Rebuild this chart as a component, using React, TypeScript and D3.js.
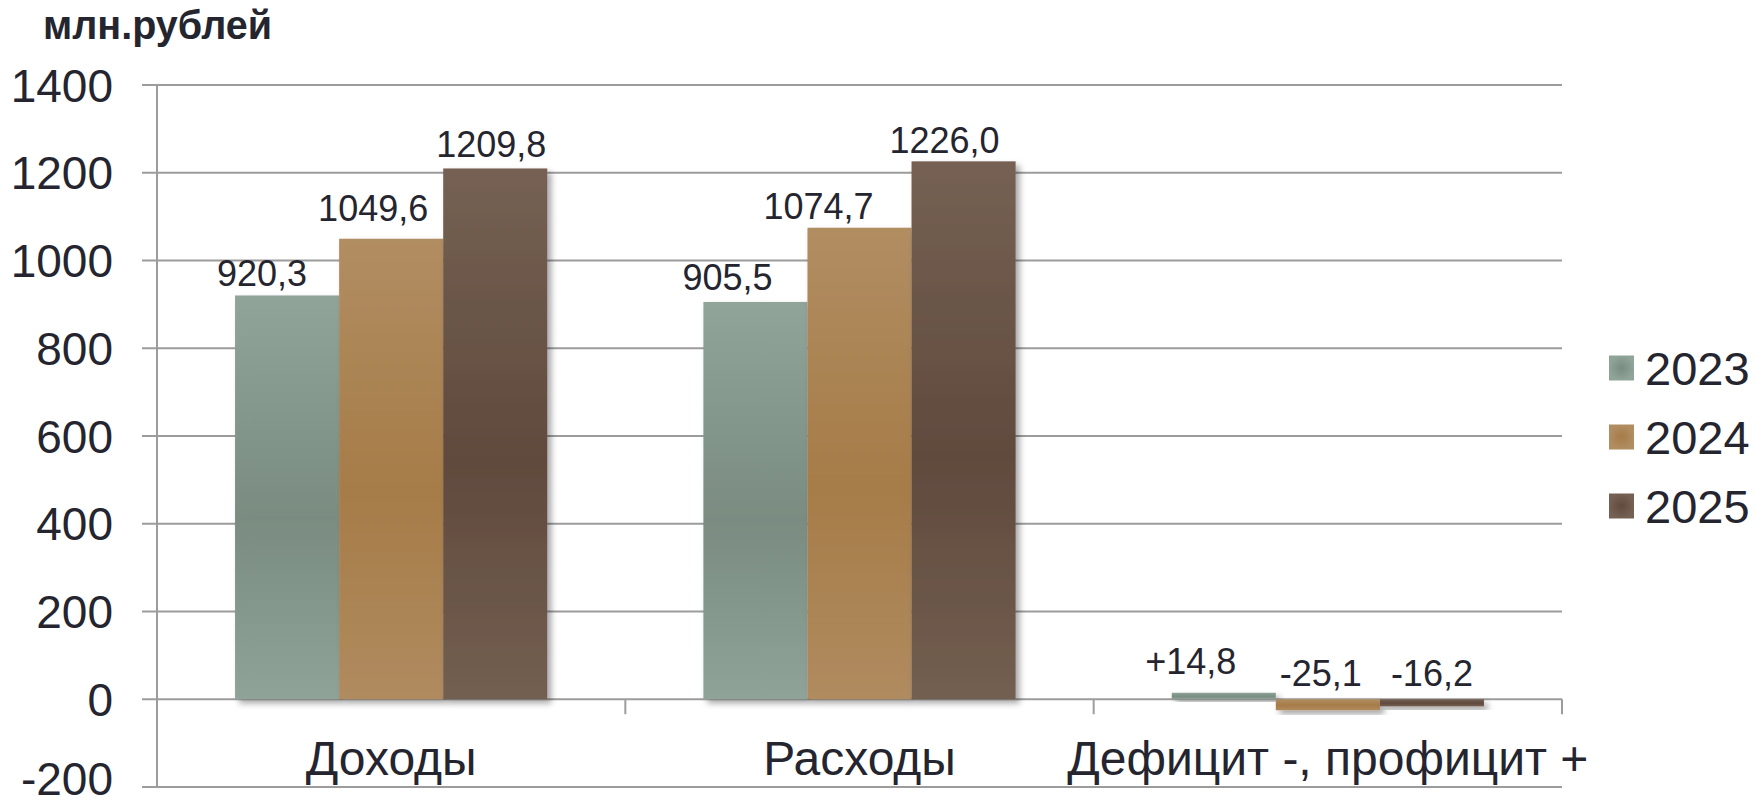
import React from "react";
import * as d3 from "d3";

const categories = ["Доходы", "Расходы", "Дефицит -, профицит +"];
const years = ["2023", "2024", "2025"];
const values2023 = [920.3, 905.5, 14.8];
const values2024 = [1049.6, 1074.7, -25.1];
const values2025 = [1209.8, 1226.0, -16.2];
const valueLabels = [
  ["920,3", "1049,6", "1209,8"],
  ["905,5", "1074,7", "1226,0"],
  ["+14,8", "-25,1", "-16,2"],
];
const yTicks = [-200, 0, 200, 400, 600, 800, 1000, 1200, 1400];
const unitLabel = "млн.рублей";

// label nudges (style), per category / year: [dx, dy]
const labelNudge = [
  [[-25, 1], [-18, -8], [-4, -1]],
  [[-28, -2], [-41, 1], [-19, 2]],
  [[-33, -9], [-7, -3], [0, -3]],
];

const gradStops = [
  ["#90a499", "#7a8c81", "#8fa398"],
  ["#b18d62", "#a67c48", "#b08b5f"],
  ["#756153", "#604a3d", "#735f50"],
];

const W = 1756;
const H = 807;
const FONT = "'Liberation Sans', Arial, Helvetica, sans-serif";
const TXT = "#25252f";
const GRID = "#9c9c9c";

export default function App() {
  const series = [values2023, values2024, values2025];
  const y = d3.scaleLinear().domain([-200, 1400]).range([787, 85]);
  const x0 = d3.scaleBand<string>().domain(categories).range([157, 1562]).paddingInner(0).paddingOuter(0);
  const x1 = d3.scaleBand<string>().domain(years).range([0, x0.bandwidth()]).paddingInner(0).paddingOuter(0.75);
  const left = 157;
  const right = 1562;
  const y0 = y(0);

  return (
    <svg
      width={W}
      height={H}
      style={{ position: "absolute", left: 0, top: 0, display: "block", background: "#fff" }}
      fontFamily={FONT}
    >
      <defs>
        {years.map((yr, i) => (
          <linearGradient key={yr} id={`g${i}`} x1="0" y1="0" x2="0" y2="1">
            <stop offset="0" stopColor={gradStops[i][0]} />
            <stop offset="0.55" stopColor={gradStops[i][1]} />
            <stop offset="1" stopColor={gradStops[i][2]} />
          </linearGradient>
        ))}
        {years.map((yr, i) => (
          <radialGradient key={"r" + yr} id={`lg${i}`} cx="0.5" cy="0.5" r="0.5">
            <stop offset="0" stopColor={gradStops[i][1]} />
            <stop offset="1" stopColor={gradStops[i][0]} />
          </radialGradient>
        ))}
        <filter id="shadow" x="-20%" y="-20%" width="140%" height="160%">
          <feDropShadow dx="4" dy="4" stdDeviation="3" floodColor="#000" floodOpacity="0.35" />
        </filter>
      </defs>

      {/* unit label */}
      <text x={43} y={39} fontSize={40} fontWeight="bold" fill={TXT} textLength={229} lengthAdjust="spacingAndGlyphs">
        {unitLabel}
      </text>

      {/* gridlines */}
      {yTicks.map((t) => (
        <line key={t} x1={142} x2={right} y1={y(t)} y2={y(t)} stroke={GRID} strokeWidth={2} />
      ))}
      {/* vertical axis */}
      <line x1={left} x2={left} y1={y(1400)} y2={y(-200)} stroke={GRID} strokeWidth={2} />
      {/* category ticks */}
      {[...categories.map((c) => x0(c) as number), right].map((xv, i) => (
        <line key={i} x1={xv} x2={xv} y1={y0} y2={y0 + 15} stroke={GRID} strokeWidth={2} />
      ))}

      {/* y tick labels */}
      {yTicks.map((t) => (
        <text key={t} x={113} y={Math.min(y(t), 778)} dy="0.36em" textAnchor="end" fontSize={46} fill={TXT}>
          {t}
        </text>
      ))}

      {/* bars */}
      {categories.map((c, ci) => (
        <g key={c} transform={`translate(${x0(c)},0)`}>
          {years.map((yr, yi) => {
            const v = series[yi][ci];
            const top = Math.min(y(v), y0);
            const h = Math.abs(y(v) - y0);
            return (
              <rect
                key={yr}
                x={x1(yr)}
                y={top}
                width={x1.bandwidth()}
                height={h}
                fill={`url(#g${yi})`}
                filter="url(#shadow)"
              />
            );
          })}
        </g>
      ))}

      {/* value labels */}
      {categories.map((c, ci) => (
        <g key={"l" + c}>
          {years.map((yr, yi) => {
            const v = series[yi][ci];
            const cx = (x0(c) as number) + (x1(yr) as number) + x1.bandwidth() / 2;
            const base = Math.min(y(v), y0) - 10;
            const [dx, dy] = labelNudge[ci][yi];
            return (
              <text key={yr} x={cx + dx} y={base + dy} textAnchor="middle" fontSize={36} fill={TXT}>
                {valueLabels[ci][yi]}
              </text>
            );
          })}
        </g>
      ))}

      {/* category labels */}
      {categories.map((c) => (
        <text
          key={"c" + c}
          x={(x0(c) as number) + x0.bandwidth() / 2}
          y={775}
          textAnchor="middle"
          fontSize={48}
          fill={TXT}
        >
          {c}
        </text>
      ))}

      {/* legend */}
      {years.map((yr, i) => {
        const cy = 368 + i * 69;
        return (
          <g key={"lg" + yr}>
            <rect x={1609} y={cy - 12.5} width={25} height={25} fill={`url(#lg${i})`} />
            <text x={1645} y={cy} dy="0.36em" fontSize={47} fill={TXT}>
              {yr}
            </text>
          </g>
        );
      })}
    </svg>
  );
}
